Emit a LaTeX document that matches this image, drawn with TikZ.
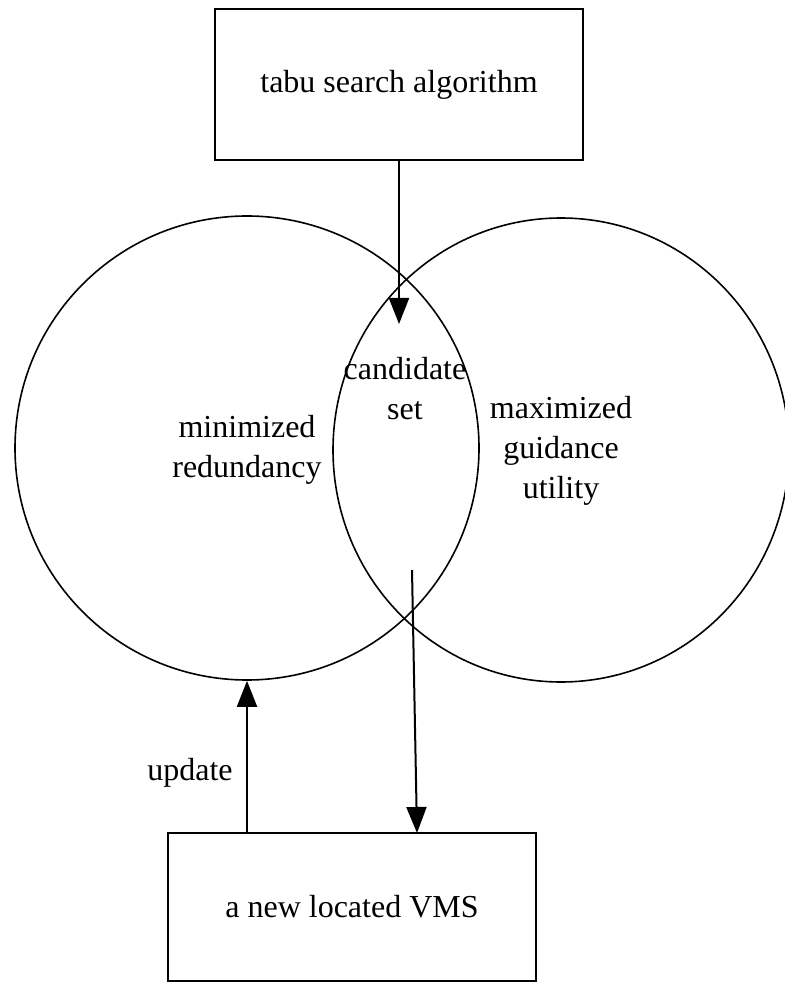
\documentclass[tikz,border=0pt]{standalone}
\usepackage{fontspec}
\setmainfont{Liberation Serif}
\usetikzlibrary{shapes.geometric,arrows.meta}
\begin{document}
\begin{tikzpicture}[x=0.5pt,y=-0.5pt,
  box/.style={draw,line width=1pt,inner sep=0pt},
  ring/.style={draw,ellipse,line width=0.8pt,inner sep=0pt},
  lbl/.style={align=center,inner sep=0pt,font=\fontsize{16}{20}\selectfont},
  arr/.style={line width=1pt,-{Triangle[width=10pt,length=13pt]}}]
\useasboundingbox (0,0) rectangle (784,983);
% circles
\node[ring,minimum width=232pt,minimum height=232pt] (L) at (247,448) {};
\node[ring,minimum width=228pt,minimum height=232pt] (R) at (561,450) {};
% boxes
\node[box,lbl,minimum width=184pt,minimum height=75.5pt] (top) at (399,84.5) {tabu search algorithm};
\node[box,lbl,minimum width=184pt,minimum height=74pt] (bot) at (352,907) {a new located VMS};
% labels
\node[lbl] (cand) at (405,389) {candidate\\set};
\node[lbl] (minr) at (247,450) {minimized\\redundancy};
\node[lbl] (maxg) at (561,451) {maximized\\guidance\\utility};
\node[lbl] (upd) at (190,773) {update};
% connectors
\coordinate (t1) at (399,324);
\coordinate (s2) at (412,570);
\coordinate (e2) at (417,833);
\draw[arr] (top.south) -- (t1);
\draw[arr] (s2) -- (e2);
\draw[arr] (bot.north -| L.south) -- (L.south);
\end{tikzpicture}
\end{document}
